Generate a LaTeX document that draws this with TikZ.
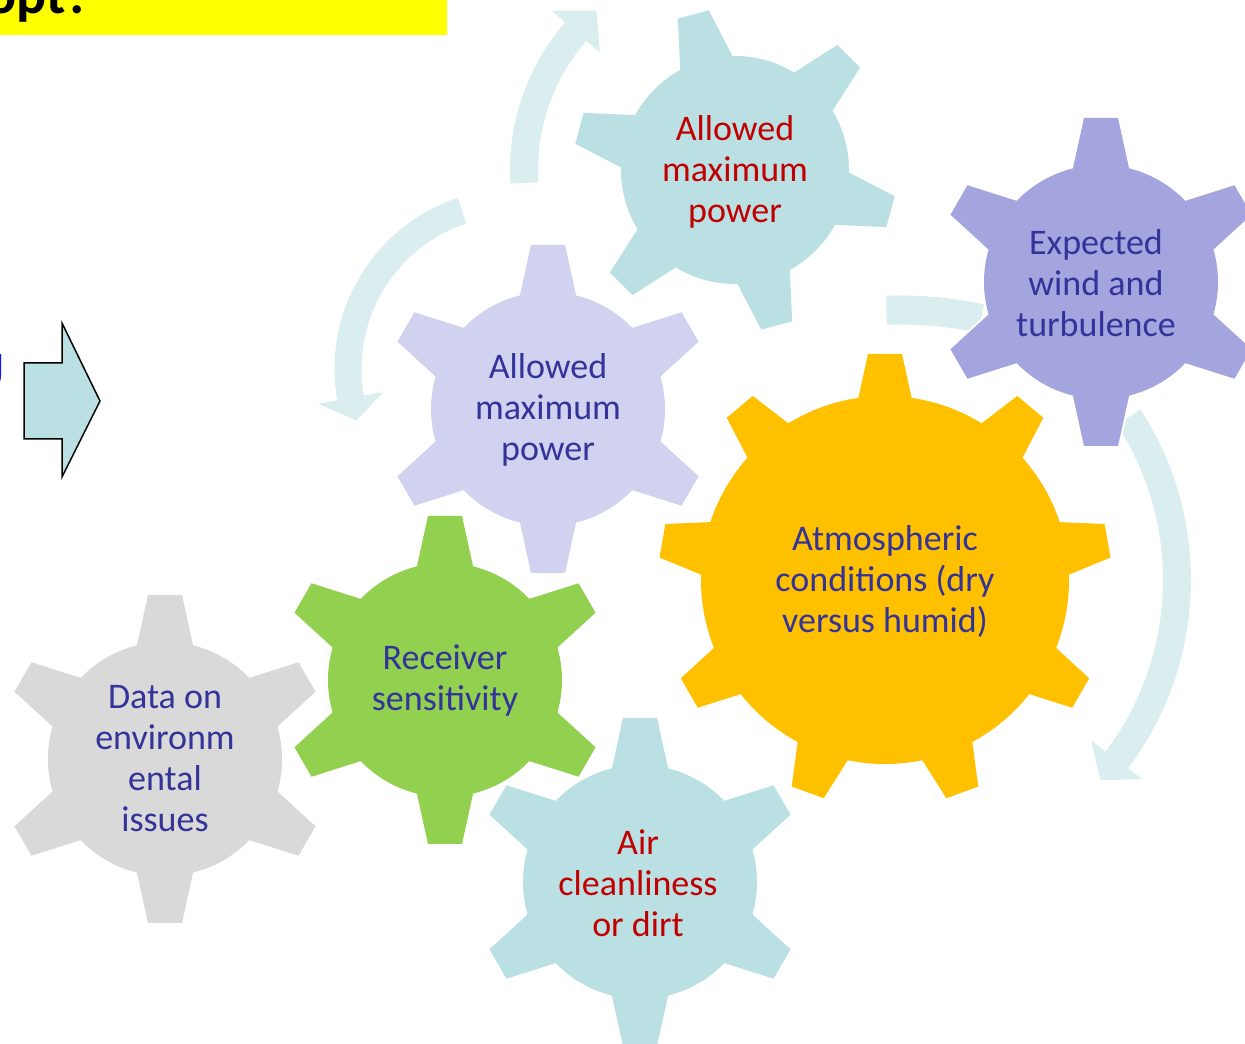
\documentclass[tikz,border=0pt]{standalone}
\usepackage{fontspec}
\setmainfont{Carlito}
\usetikzlibrary{calc}
\definecolor{cband}{RGB}{218,238,240}
\definecolor{cgray}{RGB}{217,217,217}
\definecolor{cgreen}{RGB}{146,208,80}
\definecolor{clav}{RGB}{209,210,239}
\definecolor{cteal}{RGB}{187,224,227}
\definecolor{cpurple}{RGB}{164,164,222}
\definecolor{corange}{RGB}{255,192,0}
\definecolor{tblue}{RGB}{51,51,153}
\definecolor{tred}{RGB}{192,0,0}
\definecolor{vblue}{RGB}{20,20,255}
\definecolor{cyellow}{RGB}{255,255,0}
\newcommand{\gearpath}[8]{%
  \path[#8] (#1,#2) circle (#3);
  \pgfmathsetmacro{\ghwb}{#7+0.22*(#4-#3+22)}%
  \pgfmathsetmacro{\grb}{#3-22}%
  \foreach \k in {1,...,#5}{%
    \pgfmathsetmacro{\gang}{#6+360/#5*(\k-1)}%
    \path[#8, shift={(#1,#2)}, rotate=\gang] (\grb,-\ghwb) -- (#4,-#7) -- (#4,#7) -- (\grb,\ghwb) -- cycle;%
  }%
}
\newcommand{\gear}[8]{%
  \gearpath{#1}{#2}{#3}{#4}{#5}{#6}{#7}{draw=white, line width=4pt, fill=white}%
  \gearpath{#1}{#2}{#3}{#4}{#5}{#6}{#7}{fill=#8}%
}
\newcommand{\bandarrow}[8]{%
  \pgfmathsetmacro{\bro}{#3+#4}%
  \pgfmathsetmacro{\bri}{#3-#4}%
  \pgfmathsetmacro{\bho}{#3+#8}%
  \pgfmathsetmacro{\bhi}{#3-#8}%
  \fill[cband, shift={(#1,#2)}] (#5:\bro) arc[start angle=#5, end angle=#6, radius=\bro]
    -- (#6:\bho) -- (#7:#3) -- (#6:\bhi) -- (#6:\bri)
    arc[start angle=#6, end angle=#5, radius=\bri] -- cycle;%
}
\newcommand{\bandplain}[6]{%
  \pgfmathsetmacro{\bro}{#3+#4}%
  \pgfmathsetmacro{\bri}{#3-#4}%
  \fill[cband, shift={(#1,#2)}] (#5:\bro) arc[start angle=#5, end angle=#6, radius=\bro]
    -- (#6:\bri) arc[start angle=#6, end angle=#5, radius=\bri] -- cycle;%
}
\tikzset{
  gtext/.style={font=\fontsize{36}{41}\selectfont, align=center, inner sep=0pt},
}
\begin{document}
\begin{tikzpicture}[x=1pt,y=1pt]
\useasboundingbox (0,0) rectangle (1245,1044);
\fill[white] (0,0) rectangle (1245,1044);
% title box (cut off)
\fill[cyellow] (0,1009) rectangle (447,1060);
\node[anchor=base east, inner sep=0pt, font=\fontsize{56}{64}\selectfont\bfseries] (title) at (92,1030) {opt?};
% cut-off blue text
\node[anchor=base east, inner sep=0pt, text=vblue, font=\fontsize{50}{54}\selectfont] (cut) at (5,657) {J};
% block arrow
\draw[fill=cteal, line width=1.5pt, line join=miter] (24,681) -- (62,681) -- (62,721) -- (100,643) -- (62,567) -- (62,605) -- (24,605) -- cycle;
% circular band arrows
\bandarrow{735}{874}{211}{14}{183.5}{139}{131}{32}
\bandarrow{515}{675}{167}{13.5}{108.5}{190}{198}{33}
\bandarrow{878}{464}{299}{14}{33}{-37}{-42}{32}
\bandplain{900}{344}{390}{14.5}{92}{78}
% gears
\gear{165}{285}{117}{164}{6}{90}{17}{cgray}
\gear{445}{364}{117}{164}{6}{90}{17}{cgreen}
\gear{548}{635}{117}{164}{6}{90}{17}{clav}
\gear{735}{874}{114}{161}{6}{105}{16}{cteal}
\gear{885}{464}{184}{226}{9}{90}{17}{corange}
\gear{1101}{762}{117}{164}{6}{90}{17}{cpurple}
\gear{640}{162}{117}{164}{6}{90}{17}{cteal}
% gear labels
\node[gtext, text=tblue] (env) at (165,285) {Data on\\environm\\ental\\issues};
\node[gtext, text=tblue] (rec) at (445,363) {Receiver\\sensitivity};
\node[gtext, text=tblue] (amp1) at (548,634) {Allowed\\maximum\\power};
\node[gtext, text=tred] (amp2) at (735,872) {Allowed\\maximum\\power};
\node[gtext, text=tblue] (atm) at (885,462) {Atmospheric\\conditions (dry\\versus humid)};
\node[gtext, text=tblue] (wind) at (1096,761) {Expected\\wind and\\turbulence};
\node[gtext, text=tred] (air) at (638,161) {Air\\cleanliness\\or dirt};
\end{tikzpicture}
\end{document}
